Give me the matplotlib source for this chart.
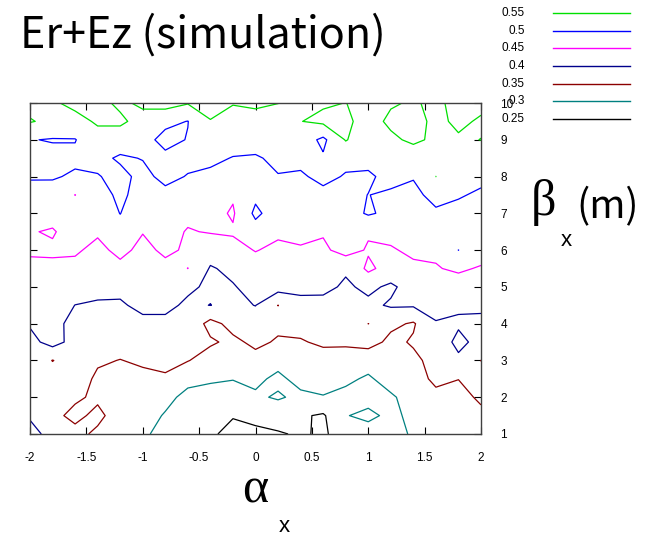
import numpy as np
import matplotlib
matplotlib.use('Agg')
import matplotlib.pyplot as plt
from matplotlib.lines import Line2D

# grid: alpha_x from -2 to 2 (step 0.2), beta_x from 1 to 10 (step 0.5)
alpha = [-2.0, -1.8, -1.6, -1.4, -1.2, -1.0, -0.8, -0.6, -0.4, -0.2, 0.0,
         0.2, 0.4, 0.6, 0.8, 1.0, 1.2, 1.4, 1.6, 1.8, 2.0]
beta = [1.0, 1.5, 2.0, 2.5, 3.0, 3.5, 4.0, 4.5, 5.0, 5.5, 6.0, 6.5,
        7.0, 7.5, 8.0, 8.5, 9.0, 9.5, 10.0]

# Er+Ez values, one column per alpha (beta = 1 ... 10)
a_m20 = [0.415, 0.395, 0.392, 0.4003, 0.39, 0.385, 0.4048, 0.417, 0.43, 0.442, 0.4545, 0.452, 0.474, 0.49, 0.5024, 0.518, 0.502, 0.553, 0.537]
a_m18 = [0.385, 0.36, 0.37, 0.375, 0.3485, 0.418, 0.41, 0.42, 0.43, 0.443, 0.455, 0.447, 0.462, 0.478, 0.505, 0.515, 0.497, 0.54, 0.545]
a_m16 = [0.362, 0.34, 0.356, 0.37, 0.375, 0.383, 0.39, 0.3995, 0.42, 0.44, 0.455, 0.465, 0.47, 0.4495, 0.493, 0.51, 0.498, 0.537, 0.56]
a_m14 = [0.342, 0.36, 0.343, 0.343, 0.355, 0.372, 0.385, 0.396, 0.41, 0.43, 0.44, 0.455, 0.468, 0.48, 0.498, 0.51, 0.535, 0.555, 0.565]
a_m12 = [0.32, 0.33, 0.335, 0.342, 0.349, 0.365, 0.38, 0.395, 0.41, 0.44, 0.46, 0.48, 0.501, 0.51, 0.51, 0.495, 0.52, 0.56, 0.54]
a_m10 = [0.305, 0.315, 0.33, 0.34, 0.356, 0.37, 0.39, 0.41, 0.42, 0.43, 0.44, 0.4515, 0.465, 0.48, 0.49, 0.5015, 0.515, 0.53, 0.56]
a_m08 = [0.29, 0.297, 0.31, 0.34, 0.37, 0.38, 0.393, 0.407, 0.42, 0.44, 0.457, 0.465, 0.475, 0.49, 0.51, 0.51, 0.487, 0.51, 0.57]
a_m06 = [0.275, 0.28, 0.29, 0.31, 0.352, 0.37, 0.385, 0.395, 0.405, 0.4502, 0.445, 0.447, 0.46, 0.475, 0.498, 0.51, 0.502, 0.499, 0.553]
a_m04 = [0.255, 0.27, 0.285, 0.305, 0.33, 0.356, 0.335, 0.4005, 0.395, 0.396, 0.42, 0.453, 0.465, 0.48, 0.49, 0.51, 0.52, 0.547, 0.575]
a_m02 = [0.24, 0.252, 0.275, 0.302, 0.32, 0.34, 0.365, 0.39, 0.397, 0.41, 0.435, 0.455, 0.445, 0.455, 0.475, 0.498, 0.52, 0.535, 0.552]
a_p00 = [0.24, 0.262, 0.293, 0.31, 0.335, 0.36, 0.375, 0.401, 0.415, 0.43, 0.452, 0.48, 0.51, 0.49, 0.49, 0.495, 0.52, 0.535, 0.557]
a_p02 = [0.246, 0.27, 0.305, 0.29, 0.315, 0.345, 0.36, 0.3495, 0.42, 0.435, 0.44, 0.458, 0.475, 0.485, 0.498, 0.51, 0.52, 0.535, 0.5505]
a_p04 = [0.255, 0.256, 0.29, 0.315, 0.33, 0.347, 0.362, 0.385, 0.413, 0.43, 0.447, 0.458, 0.472, 0.485, 0.495, 0.51, 0.525, 0.549, 0.545]
a_p06 = [0.244, 0.244, 0.298, 0.315, 0.335, 0.356, 0.37, 0.385, 0.412, 0.43, 0.44, 0.455, 0.47, 0.49, 0.51, 0.505, 0.49, 0.56, 0.545]
a_p08 = [0.27, 0.298, 0.29, 0.307, 0.33, 0.357, 0.375, 0.39, 0.393, 0.406, 0.47, 0.475, 0.48, 0.49, 0.497, 0.51, 0.553, 0.56, 0.5505]
a_p10 = [0.28, 0.31, 0.285, 0.295, 0.315, 0.37, 0.3498, 0.39, 0.41, 0.46, 0.445, 0.455, 0.505, 0.5005, 0.495, 0.51, 0.52, 0.53, 0.54]
a_p12 = [0.285, 0.29, 0.295, 0.315, 0.348, 0.338, 0.36, 0.405, 0.392, 0.43, 0.445, 0.465, 0.49, 0.495, 0.51, 0.52, 0.54, 0.56, 0.545]
a_p14 = [0.305, 0.31, 0.315, 0.33, 0.34, 0.355, 0.345, 0.405, 0.42, 0.44, 0.46, 0.47, 0.48, 0.492, 0.502, 0.52, 0.56, 0.565, 0.555]
a_p16 = [0.31, 0.32, 0.338, 0.36, 0.365, 0.352, 0.396, 0.42, 0.43, 0.448, 0.455, 0.47, 0.495, 0.51, 0.5502, 0.535, 0.54, 0.54, 0.54]
a_p18 = [0.32, 0.33, 0.34, 0.3505, 0.385, 0.42, 0.39, 0.41, 0.435, 0.455, 0.5003, 0.485, 0.49, 0.503, 0.52, 0.53, 0.545, 0.558, 0.565]
a_p20 = [0.33, 0.343, 0.355, 0.36, 0.3495, 0.375, 0.39, 0.408, 0.43, 0.447, 0.465, 0.478, 0.488, 0.495, 0.508, 0.53, 0.5505, 0.545, 0.56]

levels = [0.25, 0.3, 0.35, 0.4, 0.45, 0.5, 0.55]
level_labels = ['0.25', '0.3', '0.35', '0.4', '0.45', '0.5', '0.55']
level_colors = ['black', '#008080', '#8b0000', '#00008b', '#ff00ff', '#0000ff', '#00e000']

Z = np.column_stack([a_m20, a_m18, a_m16, a_m14, a_m12, a_m10, a_m08, a_m06, a_m04, a_m02, a_p00,
                     a_p02, a_p04, a_p06, a_p08, a_p10, a_p12, a_p14, a_p16, a_p18, a_p20])
X, Y = np.meshgrid(alpha, beta)

W, H = 652, 539
fig = plt.figure(figsize=(W / 100, H / 100), dpi=100)
ax = fig.add_axes([30 / W, 1 - 434 / H, 451 / W, 331 / H])

ax.contour(X, Y, Z, levels=levels, colors=level_colors, linewidths=0.9)

ax.set_xlim(-2, 2)
ax.set_ylim(1, 10)
ax.set_xticks(np.arange(-2, 2.01, 0.5))
ax.set_xticklabels(['-2', '-1.5', '-1', '-0.5', '0', '0.5', '1', '1.5', '2'])
ax.set_yticks(range(1, 11))
ax.tick_params(direction='in', length=5, width=0.8, top=True, right=True,
               left=True, labelleft=False, labelright=True, labelsize=8.5)
ax.tick_params(axis='x', pad=13)
ax.tick_params(axis='y', pad=14)
for lab in ax.get_yticklabels():
    lab.set_horizontalalignment('left')
for lab in ax.get_xticklabels() + ax.get_yticklabels():
    lab.set_family('Liberation Sans')
for s in ax.spines.values():
    s.set_color('#404040')
    s.set_linewidth(1.0)

# title and axis labels
fig.text(20 / W, 1 - 48 / H, 'Er+Ez (simulation)', fontsize=31,
         family='Noto Sans CJK JP', va='baseline', ha='left')
fig.text(255 / W, 1 - 490 / H, 'α', fontsize=36, family='Liberation Serif',
         ha='center', va='center')
fig.text(284 / W, 1 - 527 / H, 'x', fontsize=16, family='Liberation Sans',
         ha='center', va='center')
fig.text(543 / W, 1 - 203 / H, 'β', fontsize=36, family='Liberation Serif',
         ha='center', va='center')
fig.text(566 / W, 1 - 240 / H, 'x', fontsize=16, family='Liberation Sans',
         ha='center', va='center')
fig.text(608 / W, 1 - 207 / H, '(m)', fontsize=28, family='Noto Sans CJK JP',
         ha='center', va='center')

# key (drawn top to bottom: 0.55 ... 0.25)
key_y = [13, 31, 48, 66, 84, 101, 119]
for i, k in enumerate(range(len(levels) - 1, -1, -1)):
    y = 1 - key_y[i] / H
    fig.text(525 / W, y, level_labels[k], fontsize=8.5, family='Liberation Sans',
             ha='right', va='center')
    fig.add_artist(Line2D([553 / W, 630 / W], [y, y], color=level_colors[k],
                          linewidth=1.0, transform=fig.transFigure))

fig.savefig('out.png', dpi=100)
